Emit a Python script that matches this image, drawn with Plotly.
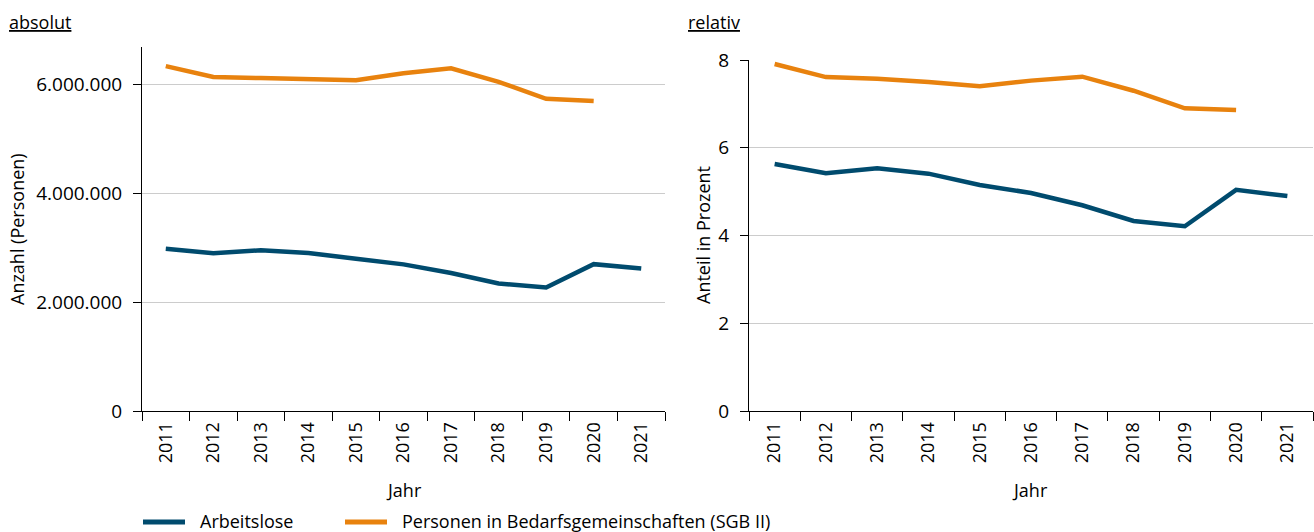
import plotly.graph_objects as go

# Jahre und Werte
jahre = ["2011", "2012", "2013", "2014", "2015", "2016", "2017", "2018", "2019", "2020", "2021"]

arbeitslose_abs = [2976000, 2897000, 2950000, 2898000, 2795000, 2691000, 2533000, 2340000, 2267000, 2695000, 2613000]
bg_personen_abs = [6330000, 6130000, 6110000, 6080000, 6070000, 6200000, 6290000, 6040000, 5730000, 5690000, None]

arbeitslose_rel = [5.63, 5.42, 5.53, 5.41, 5.15, 4.97, 4.69, 4.33, 4.21, 5.04, 4.90]
bg_personen_rel = [7.91, 7.61, 7.57, 7.50, 7.40, 7.53, 7.62, 7.30, 6.90, 6.86, None]

y_ticks_abs = [0, 2000000, 4000000, 6000000]
y_ticks_rel = [0, 2, 4, 6, 8]

serien = [("Arbeitslose", "#004B6E"),
          ("Personen in Bedarfsgemeinschaften (SGB II)", "#E8820E")]

FONT = "Open Sans"
W, H = 1314, 532


def px_x(p):
    return p / W


def px_y(p):
    return (H - p) / H


fig = go.Figure()

for (name, farbe), werte in zip(serien, [arbeitslose_abs, bg_personen_abs]):
    fig.add_trace(go.Scatter(x=jahre, y=werte, mode="lines", name=name, showlegend=False,
                             line=dict(color=farbe, width=4.5), xaxis="x", yaxis="y"))
for (name, farbe), werte in zip(serien, [arbeitslose_rel, bg_personen_rel]):
    fig.add_trace(go.Scatter(x=jahre, y=werte, mode="lines", name=name, showlegend=False,
                             line=dict(color=farbe, width=4.5), xaxis="x2", yaxis="y2"))

xcommon = dict(type="category", range=[-0.5, 10.5], automargin=False,
               showline=True, linecolor="black", linewidth=1,
               ticks="outside", tickson="boundaries", ticklen=9, tickcolor="black",
               tickangle=-90, showgrid=False, zeroline=False, ticklabelstandoff=3,
               tickfont=dict(size=18, color="black", family=FONT))
ycommon = dict(automargin=False, showline=True, linecolor="black", linewidth=1,
               ticks="outside", ticklen=8, tickcolor="black", ticklabelstandoff=7,
               showgrid=True, gridcolor="#CCCCCC", gridwidth=1,
               zeroline=False, tickfont=dict(size=19, color="black", family=FONT))

txt = dict(size=18, family=FONT, color="black")
annotations = [
    dict(text="<u>absolut</u>", x=px_x(7), y=px_y(22), xanchor="left", yanchor="middle"),
    dict(text="<u>relativ</u>", x=px_x(686), y=px_y(22), xanchor="left", yanchor="middle"),
    dict(text="Jahr", x=px_x(404), y=px_y(490), xanchor="center", yanchor="middle"),
    dict(text="Jahr", x=px_x(1030), y=px_y(490), xanchor="center", yanchor="middle"),
    dict(text="Anzahl (Personen)", x=px_x(17), y=px_y(229), xanchor="center",
         yanchor="middle", textangle=-90),
    dict(text="Anteil in Prozent", x=px_x(703), y=px_y(235), xanchor="center",
         yanchor="middle", textangle=-90),
]
for a in annotations:
    a.update(xref="paper", yref="paper", showarrow=False, font=txt)

# Legende unten: Liniensymbol und Beschriftung je Serie
shapes = []
for (name, farbe), x0 in zip(serien, [143, 345]):
    shapes.append(dict(type="line", xref="paper", yref="paper",
                       x0=px_x(x0), x1=px_x(x0 + 42), y0=px_y(522), y1=px_y(522),
                       line=dict(color=farbe, width=5)))
    annotations.append(dict(text=name, x=px_x(x0 + 55), y=px_y(521), xref="paper", yref="paper",
                            xanchor="left", yanchor="middle", showarrow=False, font=txt))

fig.update_layout(
    width=W, height=H,
    margin=dict(l=0, r=0, t=0, b=0, autoexpand=False),
    paper_bgcolor="white", plot_bgcolor="white",
    separators=",.",
    font=dict(family=FONT, size=18, color="black"),
    showlegend=False,
    xaxis=dict(domain=[px_x(142), px_x(665)], anchor="y", **xcommon),
    yaxis=dict(domain=[px_y(411), px_y(47)], anchor="x", range=[0, 6680000],
               tickvals=y_ticks_abs, tickformat=",d", **ycommon),
    xaxis2=dict(domain=[px_x(749), px_x(1313)], anchor="y2", **xcommon),
    yaxis2=dict(domain=[px_y(411), px_y(60)], anchor="x2", range=[0, 8],
                tickvals=y_ticks_rel, **ycommon),
    annotations=annotations,
    shapes=shapes,
)

fig.write_html("out.html")
